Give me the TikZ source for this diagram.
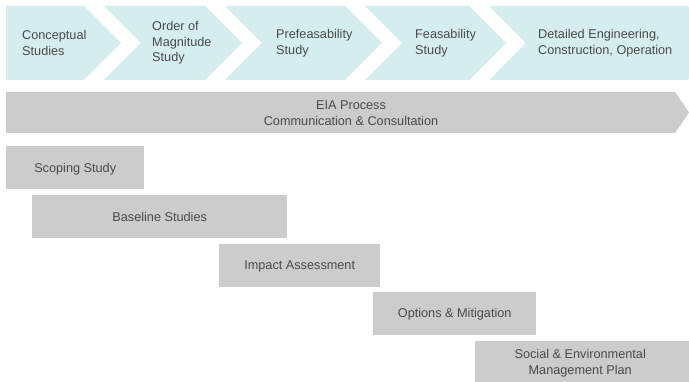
\documentclass[tikz,border=0pt]{standalone}
\usepackage{fontspec}
\setmainfont{Liberation Sans}
\definecolor{chev}{HTML}{D6EDF0}
\definecolor{gbox}{HTML}{CCCCCC}
\definecolor{txt}{HTML}{4A4A4A}
\begin{document}
\begin{tikzpicture}[x=1pt,y=-1pt,
  lbl/.style={text=txt,font=\fontsize{12.7}{15.5}\selectfont,inner sep=0pt},
  chevlbl/.style={lbl,anchor=west,align=left},
  grect/.style={fill=gbox,draw=none,anchor=north west,inner sep=0pt},
  blbl/.style={lbl,align=center}]
\useasboundingbox (0,0) rectangle (689,382);
\fill[white] (0,0) rectangle (689,382);
% chevrons
\fill[chev] (6,6) -- (84,6) -- (121,43) -- (84,80) -- (6,80) -- cycle;
\fill[chev] (104,6) -- (205,6) -- (242,43) -- (205,80) -- (104,80) -- (141,43) -- cycle;
\fill[chev] (225,6) -- (345,6) -- (382,43) -- (345,80) -- (225,80) -- (262,43) -- cycle;
\fill[chev] (365,6) -- (469,6) -- (506,43) -- (469,80) -- (365,80) -- (402,43) -- cycle;
\fill[chev,rounded corners=2pt] (489,6) -- (689,6) -- (689,80) -- (489,80) -- (526,43) [sharp corners] -- cycle;
\node[chevlbl] (c1) at (22,43) {Conceptual\\Studies};
\node[chevlbl] (c2) at (152,43) {Order of\\Magnitude\\Study};
\node[chevlbl] (c3) at (276,43) {Prefeasability\\Study};
\node[chevlbl] (c4) at (415,43) {Feasability\\Study};
\node[chevlbl] (c5) at (538,43) {Detailed Engineering,\\Construction, Operation};
% EIA bar
\fill[gbox] (6,92) -- (675,92) -- (689,112.5) -- (675,133) -- (6,133) -- cycle;
\node[lbl,align=center] (eia) at (351,113) {EIA Process\\Communication \& Consultation};
% boxes
\node[grect,minimum width=138,minimum height=43] (scope) at (6,146) {};
\node[grect,minimum width=255,minimum height=43] (base) at (32,195) {};
\node[grect,minimum width=161,minimum height=43] (impact) at (219,244) {};
\node[grect,minimum width=163,minimum height=43] (opt) at (373,292) {};
\node[grect,minimum width=214,minimum height=41] (sem) at (475,341) {};
\node[blbl] (scopet) at ([yshift=-1.5pt]scope.center) {Scoping Study};
\node[blbl] (baset) at ([yshift=-0.5pt]base.center) {Baseline Studies};
\node[blbl] (impactt) at ([yshift=-1pt]impact.center) {Impact Assessment};
\node[blbl] (optt) at ([yshift=-1pt]opt.center) {Options \& Mitigation};
\node[blbl] (semt) at ([xshift=-2pt,yshift=-1.5pt]sem.center) {Social \& Environmental\\Management Plan};
\end{tikzpicture}
\end{document}
